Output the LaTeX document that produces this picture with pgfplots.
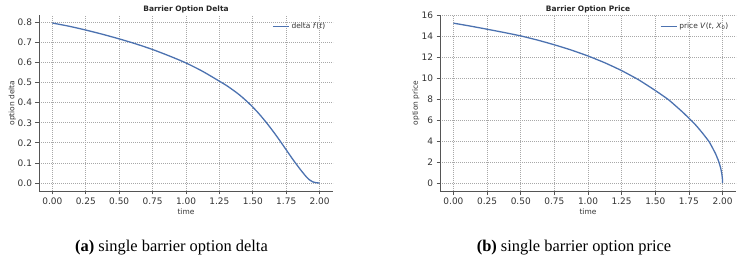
\documentclass[border=0pt]{standalone}
\usepackage{fontspec}
\setmainfont{DejaVu Sans}
\newfontfamily\capfont{Liberation Serif}
\usepackage{pgfplots}
\pgfplotsset{compat=1.18}
\definecolor{sbblue}{HTML}{4C72B0}
\definecolor{txt}{HTML}{333333}
\definecolor{spine}{HTML}{555555}
\definecolor{gridc}{HTML}{A8A8A8}
\pgfplotsset{
  every axis title shift=0pt,
  myaxis/.style={
    scale only axis,
    anchor=south west,
    height=176bp,
    axis x line*=bottom,
    axis y line*=left,
    axis line style={spine, line width=0.8bp},
    tick style={spine, line width=0.8bp},
    tick align=outside,
    major tick length=3.5bp,
    grid=major,
    major grid style={gridc, dash pattern=on 0.8bp off 1.2bp, line width=0.7bp},
    xmin=-0.1, xmax=2.1,
    xtick={0,0.25,...,2.0},
    xticklabels={0.00,0.25,0.50,0.75,1.00,1.25,1.50,1.75,2.00},
    /pgf/number format/assume math mode=true,
    ticklabel style={font=\fontsize{9}{10}\selectfont, text=txt},
    label style={font=\fontsize{7.5}{9}\selectfont, text=txt},
    title style={font=\fontsize{7.5}{9}\selectfont\bfseries, text=black!85, at={(0.5,1)}, anchor=south, inner sep=1.5bp},
    xlabel style={at={(axis description cs:0.5,-0.118)}, anchor=center},
    legend style={draw=none, fill=none, font=\fontsize{7.5}{9}\selectfont, text=txt, at={(1,1)}, anchor=north east, inner sep=1bp, legend cell align=left},
    legend image code/.code={\draw[#1] (0bp,0bp) -- (16bp,0bp);},
    clip=false,
  }
}
\begin{document}
\begin{tikzpicture}
\useasboundingbox (0,0) rectangle (746bp,261bp);
\begin{axis}[myaxis, at={(39bp,70bp)}, width=294bp,
  ymin=-0.04, ymax=0.837,
  ytick={0,0.1,...,0.8},
  yticklabels={0.0,0.1,0.2,0.3,0.4,0.5,0.6,0.7,0.8},
  title={Barrier Option Delta},
  xlabel={time}, ylabel={option delta},
  ylabel style={at={(axis description cs:-0.091,0.5)}, anchor=center},
  legend style={at={(axis description cs:0.985,0.975)}},
]
\addplot[sbblue, line width=1.3bp, smooth, tension=0.5] coordinates {
(0.000,0.797) (0.125,0.781) (0.250,0.762) (0.375,0.741) (0.500,0.718)
(0.625,0.693) (0.750,0.665) (0.875,0.633) (1.000,0.598) (1.125,0.556) (1.250,0.507)
(1.300,0.487) (1.350,0.464) (1.400,0.439) (1.450,0.410) (1.500,0.378)
(1.550,0.342) (1.600,0.302) (1.650,0.259) (1.700,0.213) (1.750,0.165)
(1.800,0.117) (1.850,0.072) (1.875,0.051) (1.900,0.031) (1.925,0.015)
(1.950,0.005) (1.975,0.001) (2.000,0.000)
};
\addlegendentry{delta \textit{f}(\textit{t})}
\end{axis}
\begin{axis}[myaxis, at={(440bp,70bp)}, width=296bp,
  ymin=-0.765, ymax=16.07,
  ytick={0,2,...,16},
  title={Barrier Option Price},
  xlabel={time}, ylabel={option price},
  ylabel style={at={(axis description cs:-0.082,0.5)}, anchor=center},
  legend style={at={(axis description cs:0.985,0.975)}},
]
\addplot[sbblue, line width=1.3bp, smooth, tension=0.3] coordinates {
(0.000,15.29) (0.125,15.01) (0.250,14.71) (0.375,14.40) (0.500,14.07) (0.625,13.67)
(0.750,13.22) (0.875,12.72) (1.000,12.15) (1.125,11.50) (1.250,10.75) (1.375,9.88)
(1.500,8.85) (1.600,7.95) (1.700,6.82) (1.750,6.20) (1.800,5.55) (1.850,4.79)
(1.900,3.95) (1.930,3.25) (1.950,2.74) (1.970,2.11) (1.985,1.48) (1.995,0.85)
(1.999,0.38) (2.000,0.00)
};
\addlegendentry{price \textit{V}(\textit{t}, \textit{X}\textsubscript{0})}
\end{axis}
\node[font=\capfont\fontsize{16.5}{19}\selectfont, anchor=base] at (171.5bp,10bp) {\textbf{(a)} single barrier option delta};
\node[font=\capfont\fontsize{16.5}{19}\selectfont, anchor=base] at (574bp,10bp) {\textbf{(b)} single barrier option price};
\end{tikzpicture}
\end{document}
